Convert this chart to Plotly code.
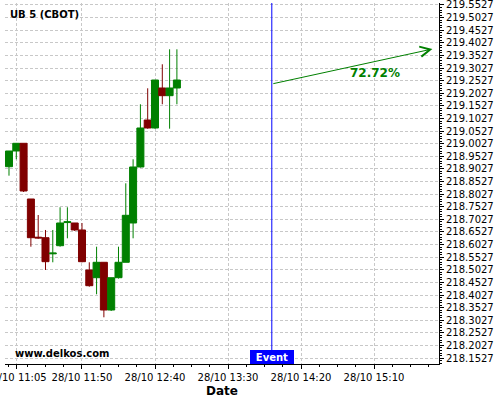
import plotly.graph_objects as go

day = "2024-10-28 "
times = ["11:00", "11:05", "11:10", "11:15", "11:20", "11:25", "11:30", "11:35",
         "11:40", "11:45", "11:50", "11:55", "12:00", "12:05", "12:10", "12:15",
         "12:20", "12:25", "12:30", "12:35", "12:40", "12:45", "12:50", "12:55"]
opens = [218.9115, 218.9738, 219.0043, 218.7835, 218.6320, 218.6300, 218.5660, 218.5983,
         218.6900, 218.6883, 218.6606, 218.5019, 218.4714, 218.5325, 218.3433, 218.4714,
         218.5325, 218.6883, 218.9104, 219.0967, 219.0650, 219.2236, 219.1931, 219.2236]
highs = [218.9738, 219.0043, 219.0043, 218.7835, 218.7200, 218.6606, 218.6606, 218.7506,
         218.7506, 218.6883, 218.6883, 218.5325, 218.5943, 218.5325, 218.4714, 218.5943,
         218.8457, 218.9409, 219.1590, 219.2224, 219.2553, 219.3176, 219.3770, 219.3770]
lows = [218.8759, 218.9409, 218.8112, 218.5943, 218.6260, 218.5019, 218.5325, 218.5943,
        218.6276, 218.6566, 218.5325, 218.4357, 218.4056, 218.3144, 218.3394, 218.4680,
        218.5325, 218.6276, 218.9080, 219.0622, 219.0620, 219.1590, 219.0622, 219.1590]
closes = [218.9738, 219.0043, 218.8152, 218.6300, 218.6290, 218.5349, 218.5690, 218.6883,
          218.6930, 218.6606, 218.5349, 218.4397, 218.5325, 218.3433, 218.4714, 218.5325,
          218.7188, 218.9104, 219.0650, 219.0650, 219.2553, 219.1931, 219.2236, 219.2553]

x_tick_times = ["11:05", "11:50", "12:40", "13:30", "14:20", "15:10"]
x_tick_labels = ["28/10 11:05", "28/10 11:50", "28/10 12:40", "28/10 13:30",
                 "28/10 14:20", "28/10 15:10"]
y_tick_labels = ["218.1527", "218.2027", "218.2527", "218.3027", "218.3527", "218.4027",
                 "218.4527", "218.5027", "218.5527", "218.6027", "218.6527", "218.7027",
                 "218.7527", "218.8027", "218.8527", "218.9027", "218.9527", "219.0027",
                 "219.0527", "219.1027", "219.1527", "219.2027", "219.2527", "219.3027",
                 "219.3527", "219.4027", "219.4527", "219.5027", "219.5527"]

x_range = ["10:57:16", "15:54:31"]
y_range = [218.1292, 219.5606]

event_time = "14:00"
arrow_start_value = 219.2395
arrow_end_time = "15:50"
arrow_end_value = 219.3782
pct_label = "72.72%"
pct_time = "15:11"
pct_value = 219.2831
title_text = "UB 5 (CBOT)"
watermark = "www.delkos.com"

GREEN = "#008000"
RED = "#800000"
FONT = "DejaVu Sans"

fig = go.Figure()
fig.add_trace(go.Candlestick(
    x=[day + t for t in times], open=opens, high=highs, low=lows, close=closes,
    increasing=dict(line=dict(color=GREEN, width=1), fillcolor=GREEN),
    decreasing=dict(line=dict(color=RED, width=1), fillcolor=RED),
    whiskerwidth=0, showlegend=False, hoverinfo="skip",
))

fig.add_shape(type="line", xref="x", yref="paper",
              x0=day + event_time, x1=day + event_time, y0=0, y1=1,
              line=dict(color="#0000ff", width=1))

fig.add_annotation(x=day + arrow_end_time, y=arrow_end_value,
                   ax=day + event_time, ay=arrow_start_value,
                   axref="x", ayref="y", xref="x", yref="y",
                   text="", showarrow=True, arrowhead=5, arrowsize=2,
                   arrowwidth=1, arrowcolor=GREEN, standoff=0, startstandoff=0)
fig.add_annotation(x=day + pct_time, y=pct_value, xref="x", yref="y",
                   text="<b>" + pct_label + "</b>", showarrow=False,
                   font=dict(family=FONT, size=12, color=GREEN))
fig.add_annotation(x=0.008, y=0.967, xref="paper", yref="paper", xanchor="left",
                   yanchor="middle", text="<b>" + title_text + "</b>", showarrow=False,
                   font=dict(family=FONT, size=10, color="black"))
fig.add_annotation(x=0.019, y=0.028, xref="paper", yref="paper", xanchor="left",
                   yanchor="middle", text="<b>" + watermark + "</b>", showarrow=False,
                   font=dict(family=FONT, size=10, color="black"))
fig.add_annotation(x=day + event_time, y=0, xref="x", yref="paper",
                   xanchor="center", yanchor="bottom", text="<b>Event</b>",
                   showarrow=False, bgcolor="#0000ff", borderpad=1, borderwidth=1,
                   bordercolor="#0000ff", width=40, height=10,
                   font=dict(family=FONT, size=10, color="white"))

grid = dict(showgrid=True, gridcolor="#c8c8c8", gridwidth=1, griddash="3px,2px")

fig.update_layout(
    width=500, height=400,
    margin=dict(l=5, r=61, t=3, b=36, autoexpand=False),
    paper_bgcolor="white", plot_bgcolor="white",
    font=dict(family=FONT, size=10, color="black"),
    boxgap=0.04, boxgroupgap=0,
    xaxis=dict(
        type="date", range=[day + r for r in x_range], automargin=False,
        rangeslider=dict(visible=False),
        tickmode="array", tickvals=[day + t for t in x_tick_times], ticktext=x_tick_labels,
        ticks="outside", ticklen=4, tickcolor="black", ticklabeloverflow="allow",
        showline=True, linecolor="black", linewidth=1,
        minor=dict(ticks="outside", ticklen=2, tickcolor="black",
                   dtick=750000, tick0=day + "11:50", showgrid=False),
        title=dict(text="<b>Date</b>", font=dict(family=FONT, size=12), standoff=4),
        tickfont=dict(family=FONT, size=10),
        **grid,
    ),
    yaxis=dict(
        side="right", range=y_range, automargin=False,
        tickmode="array", tickvals=[float(v) for v in y_tick_labels], ticktext=y_tick_labels,
        ticks="outside", ticklen=4, tickcolor="black", ticklabeloverflow="allow",
        showline=True, linecolor="black", linewidth=1, zeroline=False,
        minor=dict(ticks="outside", ticklen=2, tickcolor="black", dtick=0.01,
                   tick0=218.1527, showgrid=False),
        tickfont=dict(family=FONT, size=10),
        **grid,
    ),
)

fig.write_html("out.html", config={"displayModeBar": False},
               post_script="document.body.style.margin='0';")
